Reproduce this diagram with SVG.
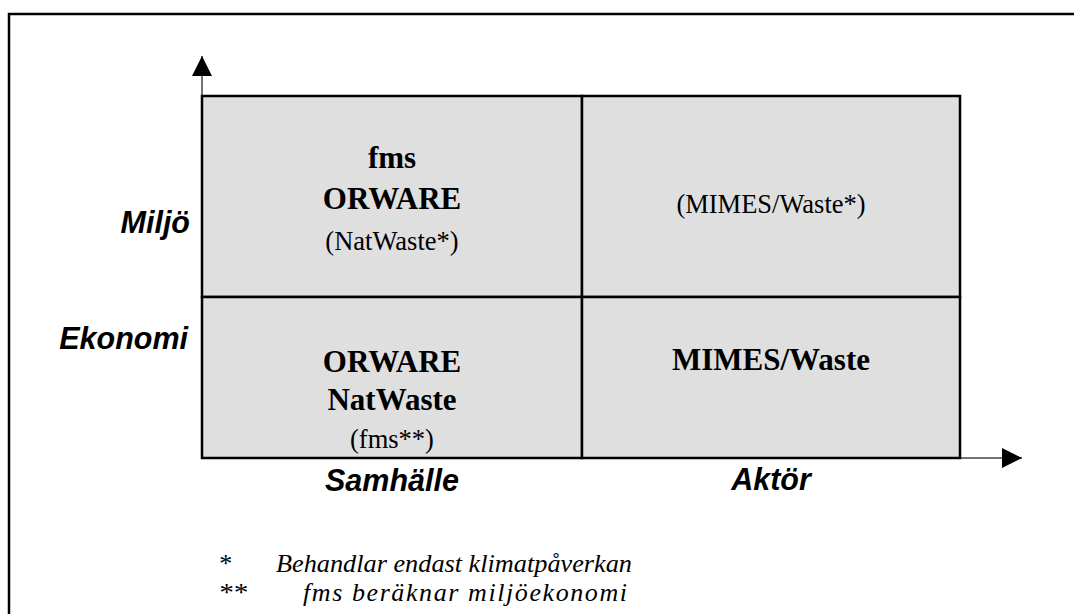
<svg xmlns="http://www.w3.org/2000/svg" width="1074" height="614" viewBox="0 0 1074 614">
<style>
.cell{fill:#dfdfdf;stroke:#000;stroke-width:2.5}
.b{font-family:"Liberation Serif",serif;font-weight:bold;font-size:31px;text-anchor:middle;fill:#000}
.r{font-family:"Liberation Serif",serif;font-size:26.5px;text-anchor:middle;fill:#000}
.ax{font-family:"Liberation Sans",sans-serif;font-weight:bold;font-style:italic;font-size:30.5px;fill:#000}
.fn{font-family:"Liberation Serif",serif;font-style:italic;font-size:26px;fill:#000}
.axis{stroke:#444;stroke-width:1.5;fill:none}
</style>
<defs>
<marker id="ah" viewBox="0 0 20 20" refX="20" refY="10" markerWidth="20" markerHeight="20" markerUnits="userSpaceOnUse" orient="auto">
<path d="M0,0 L20,10 L0,20 Z" fill="#000"/>
</marker>
</defs>
<rect width="1074" height="614" fill="#fff"/>
<rect x="9" y="14" width="1080" height="620" fill="none" stroke="#000" stroke-width="2.5"/>
<g id="connectors">
<line class="axis" x1="202" y1="458" x2="202" y2="56" marker-end="url(#ah)"/>
<line class="axis" x1="202" y1="458" x2="1022" y2="458" marker-end="url(#ah)"/>
</g>
<g id="cell-samhalle-miljo">
<rect class="cell" x="202" y="96" width="380" height="201"/>
<text class="b" x="392" y="168">fms</text>
<text class="b" x="392" y="209">ORWARE</text>
<text class="r" x="392" y="250">(NatWaste*)</text>
</g>
<g id="cell-aktor-miljo">
<rect class="cell" x="582" y="96" width="378" height="201"/>
<text class="r" x="771" y="213">(MIMES/Waste*)</text>
</g>
<g id="cell-samhalle-ekonomi">
<rect class="cell" x="202" y="297" width="380" height="161"/>
<text class="b" x="392" y="372">ORWARE</text>
<text class="b" x="392" y="410">NatWaste</text>
<text class="r" x="392" y="448">(fms**)</text>
</g>
<g id="cell-aktor-ekonomi">
<rect class="cell" x="582" y="297" width="378" height="161"/>
<text class="b" x="771" y="370">MIMES/Waste</text>
</g>
<g id="axis-labels">
<text class="ax" x="190" y="233" text-anchor="end">Miljö</text>
<text class="ax" x="188" y="349" text-anchor="end">Ekonomi</text>
<text class="ax" x="392" y="491" text-anchor="middle">Samhälle</text>
<text class="ax" x="771" y="490" text-anchor="middle">Aktör</text>
</g>
<g id="footnotes">
<text class="fn" x="218" y="572">*</text>
<text class="fn" x="276" y="572" textLength="356" lengthAdjust="spacingAndGlyphs">Behandlar endast klimatpåverkan</text>
<text class="fn" x="218" y="601" textLength="29" lengthAdjust="spacingAndGlyphs">**</text>
<text class="fn" x="303" y="601" textLength="324" lengthAdjust="spacing">fms beräknar miljöekonomi</text>
</g>
</svg>
